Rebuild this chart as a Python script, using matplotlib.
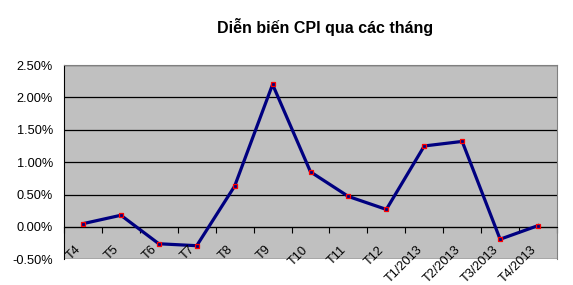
import numpy as np
import matplotlib
matplotlib.use('Agg')
import matplotlib.pyplot as plt
import matplotlib.transforms as mtrans
from matplotlib.ticker import FuncFormatter, MultipleLocator

# monthly CPI change (%)
months = ['T4', 'T5', 'T6', 'T7', 'T8', 'T9', 'T10', 'T11', 'T12',
          'T1/2013', 'T2/2013', 'T3/2013', 'T4/2013']
cpi = [0.05, 0.18, -0.26, -0.29, 0.63, 2.20, 0.85, 0.47, 0.27,
       1.25, 1.32, -0.19, 0.02]

plt.rcParams['font.family'] = ['Liberation Sans', 'DejaVu Sans']

fig = plt.figure(figsize=(5.73, 2.85), dpi=100)
ax = fig.add_axes([64 / 573, 1 - 259.3 / 285, 493 / 573, 194.3 / 285])
ax.set_facecolor('#c0c0c0')

x = np.arange(len(months))
ax.plot(x, cpi, color='#000080', lw=2.3, marker='s', ms=3.5,
        mfc='#000080', mec='#ff0000', mew=0.9, zorder=3)

ax.set_xlim(-0.5, len(months) - 0.5)
ax.set_ylim(-0.5, 2.5)
ax.yaxis.set_major_locator(MultipleLocator(0.5))
ax.yaxis.set_major_formatter(FuncFormatter(lambda v, p: '%.2f%%' % v))
ax.grid(axis='y', color='black', lw=0.9)
ax.set_axisbelow(True)
ax.tick_params(axis='y', length=0, pad=8, labelsize=9.2)

# category axis crosses at 0, ticks at boundaries
ax.spines['bottom'].set_position(('data', 0))
ax.spines['bottom'].set_color('black')
ax.set_xticks(np.arange(len(months) + 1) - 0.5)
ax.set_xticklabels([])
ax.tick_params(axis='x', which='major', direction='out', length=4, color='black')

# rotated month labels under the zero line
off = mtrans.offset_copy(ax.transData, fig=fig, x=-5.8, y=-12, units='points')
for i, m in enumerate(months):
    ax.text(x[i], 0, m, transform=off, rotation=45, ha='right', va='top',
            rotation_mode='anchor', fontsize=9.2)

for s in ['top', 'right']:
    ax.spines[s].set_color('#808080')
ax.spines['left'].set_color('black')

fig.text(325 / 573, 1 - 27 / 285, 'Diễn biến CPI qua các tháng',
         ha='center', va='center', fontsize=11.5, fontweight='bold')

fig.savefig('out.png', dpi=100)
